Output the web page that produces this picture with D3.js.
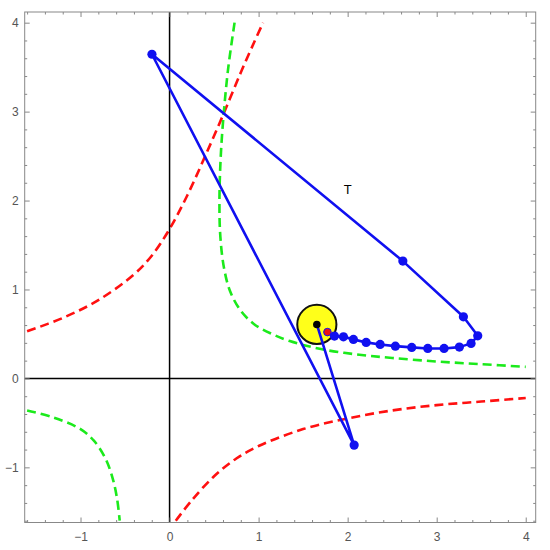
<!DOCTYPE html>
<html>
<head>
<meta charset="utf-8">
<script src="https://cdn.jsdelivr.net/npm/d3@7"></script>
<style>
  body { margin: 0; background: #fff; }
  .tick text { font-family: "Liberation Sans", Arial, sans-serif; font-size: 12px; fill: #555; }
</style>
</head>
<body>
<script>
// curves (x, y pairs)
var redUpper = [[-1.6,0.53],[-1.2,0.68],[-0.8,0.88],[-0.4,1.17],[-0.2,1.38],[0,1.68],[0.2,2.06],[0.4,2.5],[0.6,2.96],[0.8,3.44],[0.95,3.78],[1.05,4.0]];
var redLower = [[0.07,-1.6],[0.25,-1.37],[0.5,-1.1],[0.75,-0.9],[1.0,-0.76],[1.5,-0.57],[2.0,-0.45],[2.5,-0.36],[3.0,-0.3],[3.5,-0.26],[4.0,-0.22]];
var greenUpper = [[0.73,4.0],[0.66,3.5],[0.61,3.0],[0.575,2.5],[0.56,2.0],[0.57,1.6],[0.61,1.25],[0.68,0.98],[0.8,0.76],[0.95,0.61],[1.15,0.5],[1.35,0.42],[1.7,0.33],[2.1,0.27],[2.5,0.23],[3.0,0.19],[3.5,0.16],[4.0,0.13]];
var greenLower = [[-1.6,-0.36],[-1.3,-0.44],[-1.0,-0.57],[-0.85,-0.7],[-0.72,-0.9],[-0.64,-1.12],[-0.59,-1.35],[-0.56,-1.6]];

// orbit: first point is the red dot, last point the black dot
var orbitX = [1.773,1.852,1.953,2.065,2.208,2.365,2.536,2.720,2.900,3.083,3.255,3.386,3.461,3.300,2.620,-0.198,2.073,1.654];
var orbitY = [0.521,0.476,0.468,0.439,0.405,0.382,0.363,0.349,0.337,0.337,0.352,0.394,0.479,0.693,1.319,3.645,-0.750,0.607];

var sun = {x: 1.654, y: 0.607, r: 0.22};
var label = {text: "T", x: 2.0, y: 2.12};

var xTicks = [-1, 0, 1, 2, 3, 4];
var yTicks = [-1, 0, 1, 2, 3, 4];

var W = 550, H = 550;
var x = d3.scaleLinear().domain([-1.627, 4.112]).range([24.7, 535.7]);
var y = d3.scaleLinear().domain([-1.62, 4.12]).range([522.5, 12]);

var svg = d3.select("body").append("svg")
    .attr("width", W)
    .attr("height", H);

var minor = d3.range(-16, 42, 2).map(function(d) { return d / 10; })
    .filter(function(d) { return Math.abs(d - Math.round(d)) > 1e-6; });
var minorX = minor.filter(function(d) { return d >= -1.62 && d <= 4.1; });
var minorY = minor.filter(function(d) { return d >= -1.6 && d <= 4.1; });

// the curves
var line = d3.line()
    .x(function(d) { return x(d[0]); })
    .y(function(d) { return y(d[1]); })
    .curve(d3.curveCatmullRom);

var curves = [
  {pts: redUpper, col: "#ff1010"},
  {pts: redLower, col: "#ff1010"},
  {pts: greenUpper, col: "#1bea1b"},
  {pts: greenLower, col: "#1bea1b"}
];
svg.selectAll("path.curve")
  .data(curves)
  .enter()
  .append("path")
    .attr("class", "curve")
    .attr("d", function(d) { return line(d.pts); })
    .attr("fill", "none")
    .attr("stroke", function(d) { return d.col; })
    .attr("stroke-width", 2.6)
    .attr("stroke-dasharray", "9,5");

// axes through origin
svg.append("line")
    .attr("x1", x.range()[0]).attr("x2", x.range()[1])
    .attr("y1", y(0)).attr("y2", y(0))
    .attr("stroke", "#000").attr("stroke-width", 1.5);
svg.append("line")
    .attr("x1", x(0)).attr("x2", x(0))
    .attr("y1", y.range()[0]).attr("y2", y.range()[1])
    .attr("stroke", "#000").attr("stroke-width", 1.5);

// frame ticks
function frameAxis(axis, tr) {
  var g = svg.append("g").attr("transform", tr).call(axis);
  g.select(".domain").remove();
  g.selectAll(".tick line").attr("stroke", "#888");
  return g;
}
frameAxis(d3.axisBottom(x).tickValues(xTicks).tickSizeInner(-5).tickSizeOuter(0).tickPadding(10).tickFormat(d3.format("d")), "translate(0," + y.range()[0] + ")");
frameAxis(d3.axisBottom(x).tickValues(minorX).tickSizeInner(-2.5).tickSizeOuter(0).tickFormat(""), "translate(0," + y.range()[0] + ")");
frameAxis(d3.axisTop(x).tickValues(xTicks).tickSizeInner(-5).tickSizeOuter(0).tickFormat(""), "translate(0," + y.range()[1] + ")");
frameAxis(d3.axisTop(x).tickValues(minorX).tickSizeInner(-2.5).tickSizeOuter(0).tickFormat(""), "translate(0," + y.range()[1] + ")");
frameAxis(d3.axisLeft(y).tickValues(yTicks).tickSizeInner(-5).tickSizeOuter(0).tickPadding(6).tickFormat(d3.format("d")), "translate(" + x.range()[0] + ",0)");
frameAxis(d3.axisLeft(y).tickValues(minorY).tickSizeInner(-2.5).tickSizeOuter(0).tickFormat(""), "translate(" + x.range()[0] + ",0)");
frameAxis(d3.axisRight(y).tickValues(yTicks).tickSizeInner(-5).tickSizeOuter(0).tickFormat(""), "translate(" + x.range()[1] + ",0)");
frameAxis(d3.axisRight(y).tickValues(minorY).tickSizeInner(-2.5).tickSizeOuter(0).tickFormat(""), "translate(" + x.range()[1] + ",0)");

svg.selectAll(".tick text").text(function() {
  return d3.select(this).text().replace("-", "\u2212");
});

svg.append("rect")
    .attr("x", x.range()[0]).attr("y", y.range()[1])
    .attr("width", x.range()[1] - x.range()[0])
    .attr("height", y.range()[0] - y.range()[1])
    .attr("fill", "none")
    .attr("stroke", "#888")
    .attr("stroke-width", 1);

// sun
svg.append("circle")
    .attr("cx", x(sun.x)).attr("cy", y(sun.y))
    .attr("r", x(sun.r) - x(0))
    .attr("fill", "#ffff1a")
    .attr("stroke", "#111")
    .attr("stroke-width", 2);

// orbit
var orbit = orbitX.map(function(d, i) { return [d, orbitY[i]]; });
svg.append("path")
    .attr("d", d3.line().x(function(d) { return x(d[0]); }).y(function(d) { return y(d[1]); })(orbit))
    .attr("fill", "none")
    .attr("stroke", "#1010f0")
    .attr("stroke-width", 2.6)
    .attr("stroke-linejoin", "round");

svg.selectAll("circle.pt")
  .data(orbit)
  .enter()
  .append("circle")
    .attr("class", "pt")
    .attr("cx", function(d) { return x(d[0]); })
    .attr("cy", function(d) { return y(d[1]); })
    .attr("r", function(d, i) { return (i == 0 || i == orbit.length - 1) ? 3.8 : 4.6; })
    .attr("fill", function(d, i) {
      if (i == 0) return "#ee1111";
      if (i == orbit.length - 1) return "#000";
      return "#1010f0";
    })
    .attr("stroke", function(d, i) { return i == 0 ? "#1010f0" : "none"; })
    .attr("stroke-width", 1);

svg.append("text")
    .attr("x", x(label.x)).attr("y", y(label.y))
    .attr("text-anchor", "middle")
    .attr("dy", "0.35em")
    .style("font-family", "Liberation Sans, Arial, sans-serif")
    .style("font-size", "13px")
    .text(label.text);
</script>
</body>
</html>
